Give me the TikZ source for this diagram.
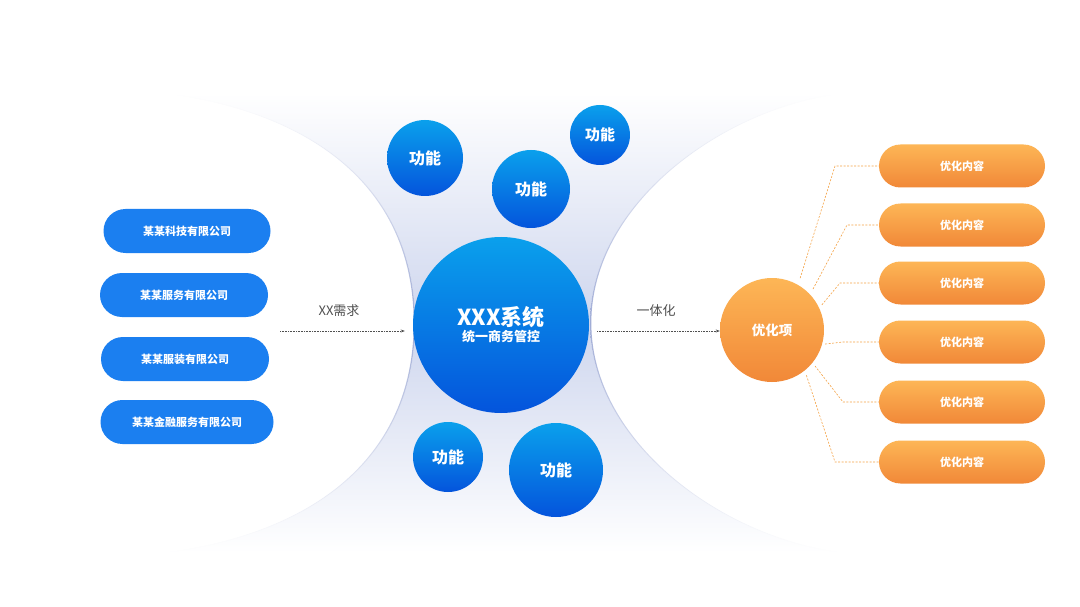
\documentclass[tikz,border=0pt]{standalone}
\usepackage{fontspec}
\setmainfont{Noto Sans CJK SC}
\usetikzlibrary{shapes.misc,arrows.meta}
\definecolor{bgmid}{RGB}{206,214,238}
\definecolor{edgecol}{RGB}{160,172,214}
\definecolor{blueT}{RGB}{10,160,236}
\definecolor{blueB}{RGB}{4,84,220}
\definecolor{pillblue}{RGB}{27,127,240}
\definecolor{orT}{RGB}{253,182,86}
\definecolor{orB}{RGB}{241,136,56}
\definecolor{dashor}{RGB}{245,163,70}
\definecolor{labgray}{RGB}{80,80,80}
\begin{document}
\begin{tikzpicture}[x=1pt,y=-1pt,
  bubble/.style={circle, inner sep=0pt, top color=blueT, bottom color=blueB, text=white, font=\fontsize{16}{18}\selectfont\bfseries},
  bluepill/.style={rounded rectangle, inner sep=0pt, minimum height=44pt, fill=pillblue, text=white, font=\fontsize{11}{13}\selectfont\bfseries},
  orpill/.style={rounded rectangle, inner sep=0pt, minimum width=166pt, minimum height=43pt, top color=orT, bottom color=orB, text=white, font=\fontsize{11}{13}\selectfont\bfseries},
  flow/.style={densely dotted, labgray, line width=0.6pt, -{Stealth[length=4pt,width=3pt]}},
  branch/.style={dashor, line width=0.6pt, dash pattern=on 2pt off 1.5pt},
  lab/.style={text=labgray, font=\fontsize{13}{15}\selectfont}]
\useasboundingbox (0,0) rectangle (1080,607);
\fill[white] (0,0) rectangle (1080,607);

% background funnel
\shade[top color=white, bottom color=white, middle color=bgmid]
  (165,93) .. controls (330,115) and (415,200) .. (415,323)
  .. controls (415,446) and (330,531) .. (165,553)
  -- (843,553) .. controls (720,538) and (590,441) .. (590,323)
  .. controls (590,205) and (720,108) .. (843,93) -- cycle;
% edge lines
\shade[top color=white, bottom color=white, middle color=edgecol]
  (165,93) .. controls (330,115) and (415,200) .. (415,323)
  .. controls (415,446) and (330,531) .. (165,553)
  -- (163.7,553) .. controls (328.7,531) and (413.7,446) .. (413.7,323)
  .. controls (413.7,200) and (328.7,115) .. (163.7,93) -- cycle;
\shade[top color=white, bottom color=white, middle color=edgecol]
  (843,553) .. controls (720,538) and (590,441) .. (590,323)
  .. controls (590,205) and (720,108) .. (843,93)
  -- (844.3,93) .. controls (721.3,108) and (591.3,205) .. (591.3,323)
  .. controls (591.3,441) and (721.3,538) .. (844.3,553) -- cycle;

% left companies
\node[bluepill, minimum width=167pt] (c1) at (187,231) {某某科技有限公司};
\node[bluepill, minimum width=168pt] (c2) at (184,295) {某某服务有限公司};
\node[bluepill, minimum width=168pt] (c3) at (185,359) {某某服装有限公司};
\node[bluepill, minimum width=173pt] (c4) at (187,422) {某某金融服务有限公司};

% central system
\node[bubble, minimum size=176pt, align=center] (main) at (501,325)
  {{\fontsize{22}{24}\selectfont\bfseries XXX系统}\\[-2pt]{\fontsize{13}{15}\selectfont\bfseries 统一商务管控}};
\node[bubble, minimum size=76pt] (f1) at (425,158) {功能};
\node[bubble, minimum size=78pt] (f2) at (531,189) {功能};
\node[bubble, minimum size=60pt, font=\fontsize{15}{17}\selectfont\bfseries] (f3) at (600,135) {功能};
\node[bubble, minimum size=70pt] (f4) at (448,457) {功能};
\node[bubble, minimum size=94pt] (f5) at (556,470) {功能};

% arrows
\coordinate (reqstart) at (280,331);
\draw[flow, shorten >=8pt] (reqstart) -- (main.west |- reqstart);
\node[lab] (reqlab) at (339,311) {XX需求};
\node[circle, inner sep=0pt, minimum size=104pt, top color=orT, bottom color=orB, text=white, font=\fontsize{13.5}{15}\selectfont\bfseries] (opt) at (772,330) {优化项};
\coordinate (intstart) at (597,331);
\draw[flow] (intstart) -- (opt.west |- intstart);
\node[lab] (intlab) at (656,311) {一体化};

% right items
\node[orpill] (r1) at (962,166) {优化内容};
\node[orpill] (r2) at (962,225) {优化内容};
\node[orpill] (r3) at (962,283) {优化内容};
\node[orpill] (r4) at (962,342) {优化内容};
\node[orpill] (r5) at (962,402) {优化内容};
\node[orpill] (r6) at (962,462) {优化内容};

\coordinate (b1) at (835,0);
\coordinate (b2) at (847,0);
\coordinate (b3) at (840,0);
\coordinate (b4) at (843,0);
\coordinate (b5) at (843,0);
\coordinate (b6) at (835,0);
\draw[branch, shorten <=7pt] (opt.60) -- (r1.west -| b1) -- (r1.west);
\draw[branch, shorten <=6pt] (opt.43) -- (r2.west -| b2) -- (r2.west);
\draw[branch, shorten <=4pt] (opt.25) -- (r3.west -| b3) -- (r3.west);
\draw[branch, shorten <=3pt] (opt.-16) -- (r4.west -| b4) -- (r4.west);
\draw[branch, shorten <=4pt] (opt.-39) -- (r5.west -| b5) -- (r5.west);
\draw[branch, shorten <=5pt] (opt.-51) -- (r6.west -| b6) -- (r6.west);
\end{tikzpicture}
\end{document}
